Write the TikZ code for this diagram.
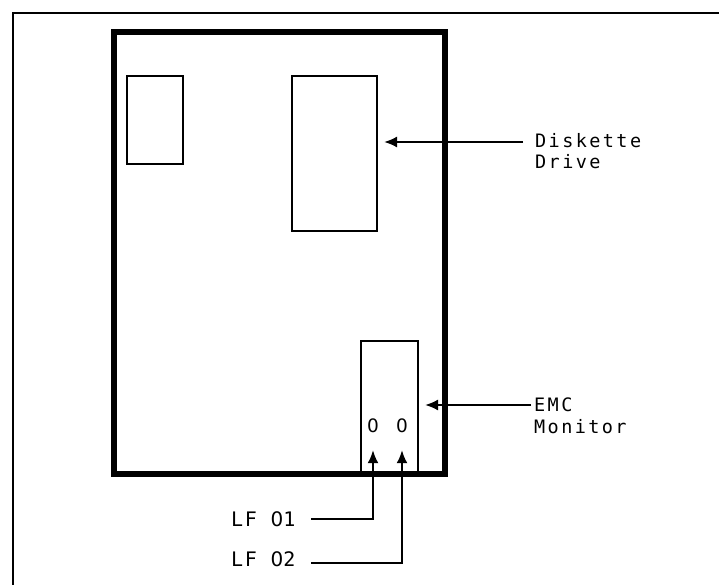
\documentclass[tikz,border=0pt]{standalone}
\usepackage{fontspec}
\newfontfamily\manualfont[LetterSpace=13]{DejaVu Sans Mono}
\newfontfamily\lffont[LetterSpace=8]{DejaVu Sans Mono}
\newfontfamily\digitfont{DejaVu Sans}
\usetikzlibrary{arrows.meta}

\tikzset{
  box/.style={draw, line width=2pt, inner sep=0pt},
  lbl/.style={inner sep=0pt, align=left, font=\fontsize{18.5}{21.5}\manualfont},
  lflbl/.style={inner sep=0pt, font=\fontsize{20}{22}\lffont},
  pointer/.style={line width=2pt, -{Latex[length=13pt,width=11pt]}},
}

\begin{document}
\begin{tikzpicture}[x=1pt, y=-1pt, line cap=butt, line join=miter]

  %% ---- outer frame (runs off the page right and bottom) ----
  \draw[line width=2pt] (13,600) -- (13,13) -- (730,13);

  %% ---- cabinet and its parts ----
  \node[box, line width=6pt, minimum width=331pt, minimum height=442pt] (cabinet) at (279.5,253) {};
  \node[box, minimum width=56pt, minimum height=88pt] (slot) at (155,120) {};
  \node[box, minimum width=85pt, minimum height=155pt] (drive) at (334.5,153.5) {};
  \node[box, minimum width=57pt, minimum height=133pt] (emc) at (389.5,407.5) {};

  %% ---- test points on the EMC monitor ----
  \node[lbl] (tp1) at (373,426) {\digitfont 0};
  \node[lbl] (tp2) at (402,426) {\digitfont 0};

  %% ---- labels ----
  \node[lbl, anchor=north west] (drivelbl) at (535,133) {Diskette\\Drive};
  \node[lbl, anchor=north west] (emclbl) at (534,398) {EMC\\Monitor};
  \node[lflbl, anchor=west] (lf1) at (231,519) {LF {\digitfont 0}1};
  \node[lflbl, anchor=west] (lf2) at (231,559) {LF {\digitfont 0}2};

  %% ---- pointers ----
  \coordinate (drivetail) at (523,142);
  \coordinate (emctail) at (531,405);
  \draw[pointer, shorten >=6pt] (drivetail) -- (drivetail -| drive.east);
  \draw[pointer, shorten >=6pt] (emctail) -- (emctail -| emc.east);
  \draw[pointer, shorten <=16pt, shorten >=17pt] (lf1.east) -| (tp1.south);
  \draw[pointer, shorten <=16pt, shorten >=17pt] ([yshift=-4pt]lf2.east) -| (tp2.south);

  \pgfresetboundingbox
  \path[use as bounding box] (0,0) rectangle (719,585);
\end{tikzpicture}
\end{document}
